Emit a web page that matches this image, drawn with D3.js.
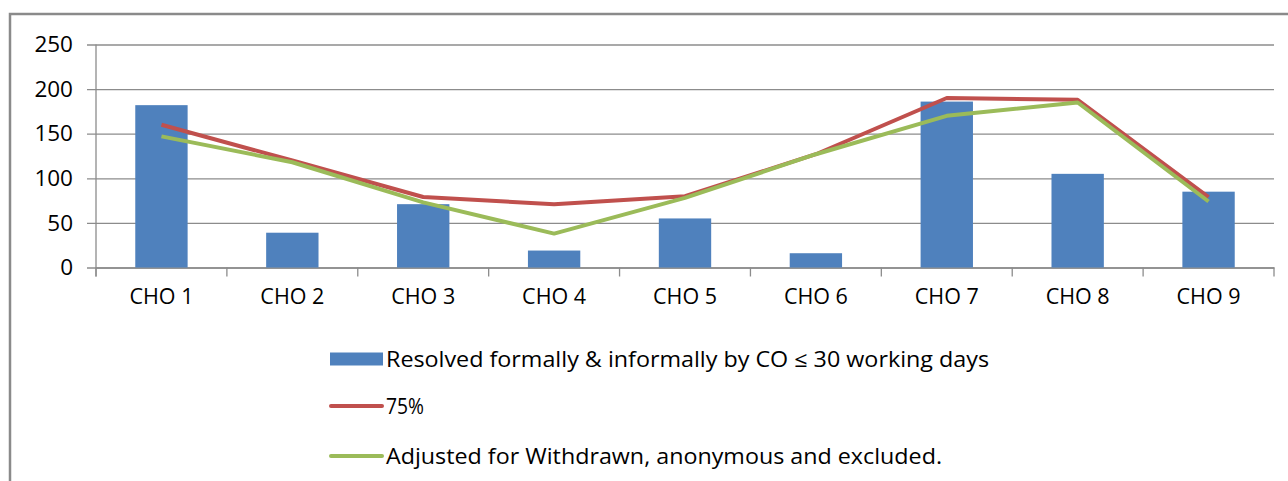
<!DOCTYPE html>
<html>
<head>
<meta charset="utf-8">
<script src="https://cdn.jsdelivr.net/npm/d3@7"></script>
<style>
  html, body { margin: 0; padding: 0; background: #fff; }
  svg { display: block; }
  text { font-family: "Open Sans", "Noto Sans", sans-serif; fill: #000; }
</style>
</head>
<body>
<svg id="chart" width="1288" height="481"></svg>
<script>
// Complaint resolution by CHO
const categories = ["CHO 1", "CHO 2", "CHO 3", "CHO 4", "CHO 5", "CHO 6", "CHO 7", "CHO 8", "CHO 9"];
const resolved = [182, 39, 71, 19, 55, 16, 186, 105, 85];
const target75 = [160, 120, 79, 71, 80, 127, 190, 188, 79];
const adjusted = [147, 118, 73, 38, 78, 127, 170, 185, 74];
const yTicks = [0, 50, 100, 150, 200, 250];
const legendLabels = [
  "Resolved formally & informally by CO \u2264 30 working days",
  "75%",
  "Adjusted for Withdrawn, anonymous and excluded."
];

const colors = { bar: "#4F81BD", red: "#C0504D", green: "#9BBB59", grid: "#8C8C8C" };

const svg = d3.select("#chart");

// Outer frame (left and top edges visible)
svg.append("path")
  .attr("d", "M10,481 L10,14 L1288,14")
  .attr("fill", "none")
  .attr("stroke", "#8A8A8A")
  .attr("stroke-width", 2.5);

const plot = { left: 96, right: 1274, top: 44.5, bottom: 267.5 };

const x = d3.scaleBand().domain(categories).range([plot.left, plot.right]).paddingInner(0).paddingOuter(0);
const y = d3.scaleLinear().domain([0, 250]).range([plot.bottom, plot.top]);

// Horizontal gridlines with tick labels
const yAxis = d3.axisLeft(y).tickValues(yTicks).tickSize(-(plot.right - plot.left)).tickPadding(20);
const gy = svg.append("g").attr("transform", `translate(${plot.left},0)`).call(yAxis);
gy.select(".domain").remove();
gy.selectAll(".tick line")
  .attr("x1", -9)
  .attr("stroke", colors.grid)
  .attr("stroke-width", 1.3);
gy.selectAll(".tick text")
  .attr("x", -23)
  .attr("font-size", 22.5)
  .attr("fill", "#000");

// Vertical axis line
svg.append("line")
  .attr("x1", plot.left).attr("x2", plot.left)
  .attr("y1", plot.top).attr("y2", plot.bottom + 9)
  .attr("stroke", colors.grid).attr("stroke-width", 1.3);

// Category axis
const xAxis = d3.axisBottom(x).tickSize(0).tickPadding(21);
const gx = svg.append("g").attr("transform", `translate(0,${plot.bottom})`).call(xAxis);
gx.select(".domain").attr("stroke", colors.grid).attr("stroke-width", 1.3);
gx.selectAll(".tick text")
  .attr("font-size", 21.5)
  .attr("fill", "#000");

// Tick marks between categories
const boundaries = categories.map(c => x(c)).concat([plot.right]);
svg.append("g").selectAll("line")
  .data(boundaries)
  .join("line")
  .attr("x1", d => d).attr("x2", d => d)
  .attr("y1", plot.bottom).attr("y2", plot.bottom + 9)
  .attr("stroke", colors.grid).attr("stroke-width", 1.3);

// Bars
const barW = x.bandwidth() * 0.4;
svg.append("g").selectAll("rect")
  .data(resolved)
  .join("rect")
  .attr("x", (d, i) => x(categories[i]) + (x.bandwidth() - barW) / 2)
  .attr("y", d => y(d))
  .attr("width", barW)
  .attr("height", d => y(0) - y(d))
  .attr("fill", colors.bar);

// Lines
const line = d3.line()
  .x((d, i) => x(categories[i]) + x.bandwidth() / 2)
  .y(d => y(d));

svg.append("path")
  .datum(target75)
  .attr("d", line)
  .attr("fill", "none")
  .attr("stroke", colors.red)
  .attr("stroke-width", 4)
  .attr("stroke-linejoin", "round");

svg.append("path")
  .datum(adjusted)
  .attr("d", line)
  .attr("fill", "none")
  .attr("stroke", colors.green)
  .attr("stroke-width", 4)
  .attr("stroke-linejoin", "round");

// Legend: condensed text fitted to a fixed run length
const legend = svg.append("g");
const legendRows = [
  { label: legendLabels[0], type: "rect", color: colors.bar, cy: 359, width: 603 },
  { label: legendLabels[1], type: "line", color: colors.red, cy: 406, width: 38 },
  { label: legendLabels[2], type: "line", color: colors.green, cy: 456, width: 556 }
];
legendRows.forEach(r => {
  if (r.type === "rect") {
    legend.append("rect")
      .attr("x", 330).attr("y", r.cy - 6.5)
      .attr("width", 53).attr("height", 13)
      .attr("fill", r.color);
  } else {
    legend.append("line")
      .attr("x1", 331).attr("x2", 382)
      .attr("y1", r.cy).attr("y2", r.cy)
      .attr("stroke", r.color).attr("stroke-width", 4)
      .attr("stroke-linecap", "round");
  }
  legend.append("text")
    .attr("x", 386).attr("y", r.cy)
    .attr("dy", "0.35em")
    .attr("font-size", 21.5)
    .attr("textLength", r.width)
    .attr("lengthAdjust", "spacingAndGlyphs")
    .text(r.label);
});
</script>
</body>
</html>
